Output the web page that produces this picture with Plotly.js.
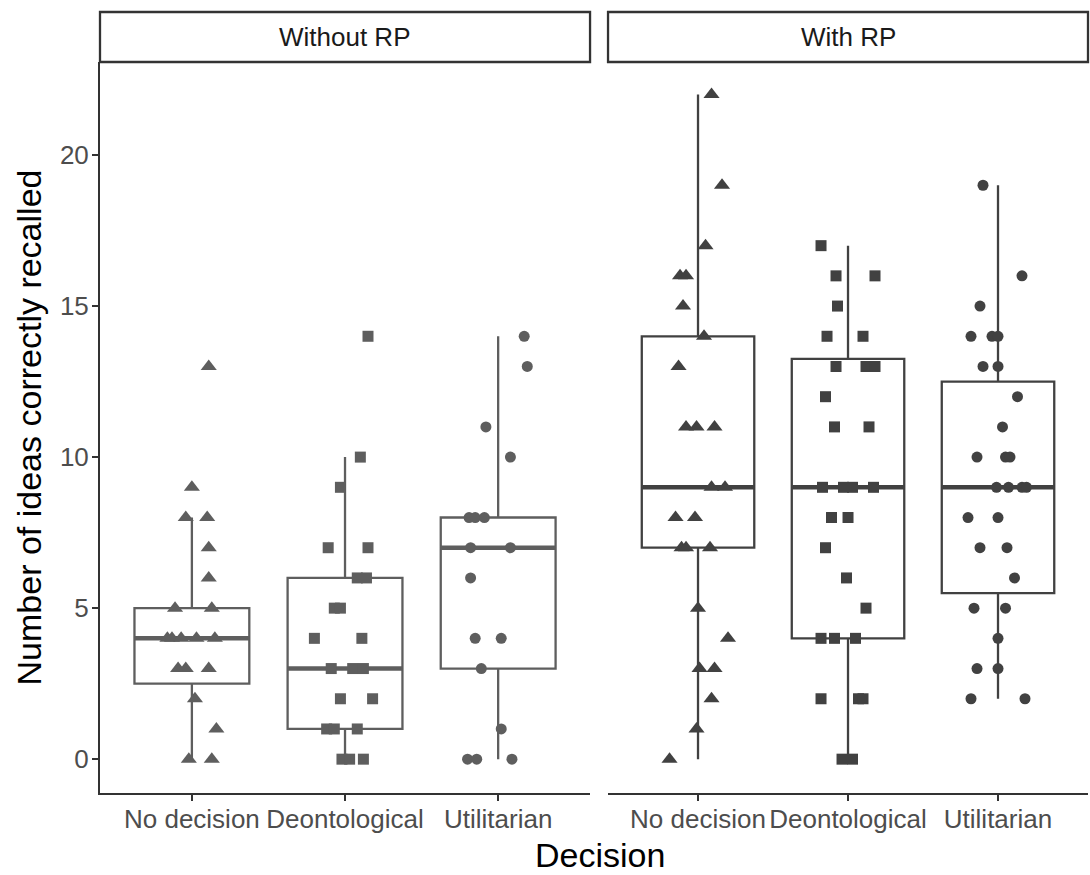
<!DOCTYPE html>
<html>
<head>
<meta charset="utf-8">
<script src="https://cdn.plot.ly/plotly-3.0.1.min.js"></script>
<style>
  html, body { margin: 0; padding: 0; background: #fff; }
  #chart { width: 1090px; height: 875px; }
</style>
</head>
<body>
<div id="chart"></div>
<script>
// ---------- Data ----------
const categories = ['No decision', 'Deontological', 'Utilitarian'];
const panels = ['Without RP', 'With RP'];
const yTicks = [0, 5, 10, 15, 20];

// Box statistics per panel (order follows categories)
const woQ1 = [2.5, 1, 3];
const woMedian = [4, 3, 7];
const woQ3 = [5, 6, 8];
const woLow = [0, 0, 0];
const woHigh = [8, 10, 14];

const wQ1 = [7, 4, 5.5];
const wMedian = [9, 9, 9];
const wQ3 = [14, 13.25, 12.5];
const wLow = [0, 0, 2];
const wHigh = [22, 17, 19];

// Individual observations (values) and their horizontal jitter (category units)
const woNoDecVals = [13, 9, 8, 8, 7, 6, 5, 5, 4, 4, 4, 4, 4, 3, 3, 3, 2, 1, 0, 0];
const woNoDecJit = [0.11, 0.00, -0.04, 0.10, 0.11, 0.11, -0.11, 0.13, -0.16, -0.13, -0.07, 0.03, 0.15, -0.09, -0.04, 0.11, 0.02, 0.16, -0.02, 0.13];

const woDeonVals = [14, 10, 9, 7, 7, 6, 6, 5, 5, 4, 4, 3, 3, 3, 2, 2, 1, 1, 1, 0, 0, 0];
const woDeonJit = [0.15, 0.10, -0.03, -0.11, 0.15, 0.08, 0.14, -0.07, -0.03, -0.20, 0.11, -0.09, 0.05, 0.12, -0.03, 0.18, -0.12, -0.07, 0.08, -0.02, 0.03, 0.12];

const woUtilVals = [14, 13, 11, 10, 8, 8, 8, 7, 7, 6, 4, 4, 3, 1, 0, 0, 0];
const woUtilJit = [0.17, 0.19, -0.08, 0.08, -0.19, -0.15, -0.09, -0.18, 0.08, -0.18, -0.15, 0.02, -0.11, 0.02, -0.20, -0.14, 0.09];

const wNoDecVals = [22, 19, 17, 16, 16, 15, 14, 13, 11, 11, 11, 9, 9, 8, 8, 7, 7, 7, 5, 4, 3, 3, 2, 1, 0];
const wNoDecJit = [0.09, 0.16, 0.05, -0.12, -0.08, -0.10, 0.04, -0.13, -0.08, -0.01, 0.11, 0.09, 0.18, -0.15, -0.02, -0.11, -0.08, 0.08, 0.00, 0.20, 0.01, 0.11, 0.09, -0.01, -0.19];

const wDeonVals = [17, 16, 16, 15, 14, 14, 13, 13, 13, 12, 11, 11, 9, 9, 9, 9, 8, 8, 7, 6, 5, 4, 4, 4, 2, 2, 2, 0, 0];
const wDeonJit = [-0.18, -0.08, 0.18, -0.07, -0.14, 0.10, -0.08, 0.12, 0.18, -0.15, -0.09, 0.14, -0.17, -0.03, 0.03, 0.17, -0.11, 0.00, -0.15, -0.01, 0.12, -0.18, -0.09, 0.05, -0.18, 0.07, 0.10, -0.04, 0.03];

const wUtilVals = [19, 16, 15, 14, 14, 14, 13, 13, 12, 11, 10, 10, 10, 9, 9, 9, 9, 8, 8, 7, 7, 6, 5, 5, 4, 3, 3, 2, 2];
const wUtilJit = [-0.10, 0.16, -0.12, -0.18, -0.04, 0.00, -0.10, 0.00, 0.13, 0.03, -0.14, 0.05, 0.08, -0.01, 0.07, 0.16, 0.19, -0.20, 0.00, -0.12, 0.06, 0.11, -0.16, 0.05, 0.00, -0.14, 0.00, -0.18, 0.18];

// ---------- Styling ----------
const FONT = 'Liberation Sans, Arial, Helvetica, sans-serif';
const colP1 = '#5e5e5e';
const colP2 = '#414141';
const symbols = ['triangle-up', 'square', 'circle'];
const sizes = [14, 11, 11];
const boxW = 0.75;

const catPos = categories.map((c, i) => i + 1);

function boxTrace(xa, q1, med, q3, lo, hi, col) {
  return {
    type: 'box', xaxis: xa, yaxis: 'y',
    x: catPos, q1: q1, median: med, q3: q3, lowerfence: lo, upperfence: hi,
    width: boxW, whiskerwidth: 0,
    fillcolor: 'rgba(255,255,255,0)',
    line: { color: col, width: 2.3 },
    boxpoints: false, hoverinfo: 'skip', showlegend: false
  };
}

function medianTrace(xa, med, col) {
  const xs = [], ys = [];
  catPos.forEach((p, i) => {
    xs.push(p - boxW / 2, p + boxW / 2, null);
    ys.push(med[i], med[i], null);
  });
  return {
    type: 'scatter', mode: 'lines', xaxis: xa, yaxis: 'y',
    x: xs, y: ys, line: { color: col, width: 4.5 },
    hoverinfo: 'skip', showlegend: false
  };
}

function pointTrace(xa, catIdx, vals, jit, col) {
  return {
    type: 'scatter', mode: 'markers', xaxis: xa, yaxis: 'y',
    x: vals.map((v, i) => catPos[catIdx] + jit[i]),
    y: vals,
    marker: { symbol: symbols[catIdx], size: sizes[catIdx], color: col, line: { width: 0 } },
    hoverinfo: 'y', showlegend: false
  };
}

const data = [
  boxTrace('x', woQ1, woMedian, woQ3, woLow, woHigh, colP1),
  boxTrace('x2', wQ1, wMedian, wQ3, wLow, wHigh, colP2),
  medianTrace('x', woMedian, colP1),
  medianTrace('x2', wMedian, colP2),
  pointTrace('x', 0, woNoDecVals, woNoDecJit, colP1),
  pointTrace('x', 1, woDeonVals, woDeonJit, colP1),
  pointTrace('x', 2, woUtilVals, woUtilJit, colP1),
  pointTrace('x2', 0, wNoDecVals, wNoDecJit, colP2),
  pointTrace('x2', 1, wDeonVals, wDeonJit, colP2),
  pointTrace('x2', 2, wUtilVals, wUtilJit, colP2)
];

const d1 = [0, 0.4960];
const d2 = [0.5142, 1];

const xCommon = {
  range: [0.4, 3.6],
  tickmode: 'array', tickvals: catPos, ticktext: categories,
  showline: true, linecolor: '#333333', linewidth: 2,
  ticks: 'outside', ticklen: 6, tickwidth: 2, tickcolor: '#333333',
  ticklabelstandoff: -4,
  tickfont: { family: FONT, size: 26, color: '#4d4d4d' },
  showgrid: false, zeroline: false, fixedrange: true, anchor: 'y'
};

const stripTop = 1 + 50 / 731;
const layout = {
  width: 1090, height: 875,
  margin: { l: 100, r: 2, t: 62, b: 82 },
  paper_bgcolor: '#ffffff', plot_bgcolor: '#ffffff',
  font: { family: FONT },
  showlegend: false,
  xaxis: Object.assign({}, xCommon, { domain: d1 }),
  xaxis2: Object.assign({}, xCommon, { domain: d2 }),
  yaxis: {
    range: [-1.12, 23.08],
    tickmode: 'array', tickvals: yTicks,
    showline: true, linecolor: '#333333', linewidth: 2,
    ticks: 'outside', ticklen: 6, tickwidth: 2, tickcolor: '#333333',
    ticklabelstandoff: -2,
    tickfont: { family: FONT, size: 26, color: '#4d4d4d' },
    showgrid: false, zeroline: false, fixedrange: true, anchor: 'x',
    title: { text: 'Number of ideas correctly recalled', font: { family: FONT, size: 34, color: '#000000' }, standoff: 8 }
  },
  shapes: [
    { type: 'rect', xref: 'paper', yref: 'paper', x0: d1[0], x1: d1[1], y0: 1, y1: stripTop,
      line: { color: '#333333', width: 2.3 }, fillcolor: '#ffffff', layer: 'above' },
    { type: 'rect', xref: 'paper', yref: 'paper', x0: d2[0], x1: d2[1], y0: 1, y1: stripTop,
      line: { color: '#333333', width: 2.3 }, fillcolor: '#ffffff', layer: 'above' }
  ],
  annotations: [
    { text: panels[0], xref: 'paper', yref: 'paper', x: (d1[0] + d1[1]) / 2, y: (1 + stripTop) / 2,
      xanchor: 'center', yanchor: 'middle', showarrow: false, font: { family: FONT, size: 26, color: '#1a1a1a' } },
    { text: panels[1], xref: 'paper', yref: 'paper', x: (d2[0] + d2[1]) / 2, y: (1 + stripTop) / 2,
      xanchor: 'center', yanchor: 'middle', showarrow: false, font: { family: FONT, size: 26, color: '#1a1a1a' } },
    { text: 'Decision', xref: 'paper', yref: 'paper', x: 0.506, y: -62 / 731,
      xanchor: 'center', yanchor: 'middle', showarrow: false, font: { family: FONT, size: 34, color: '#000000' } }
  ]
};

Plotly.newPlot('chart', data, layout, { displayModeBar: false, staticPlot: true });
</script>
</body>
</html>
